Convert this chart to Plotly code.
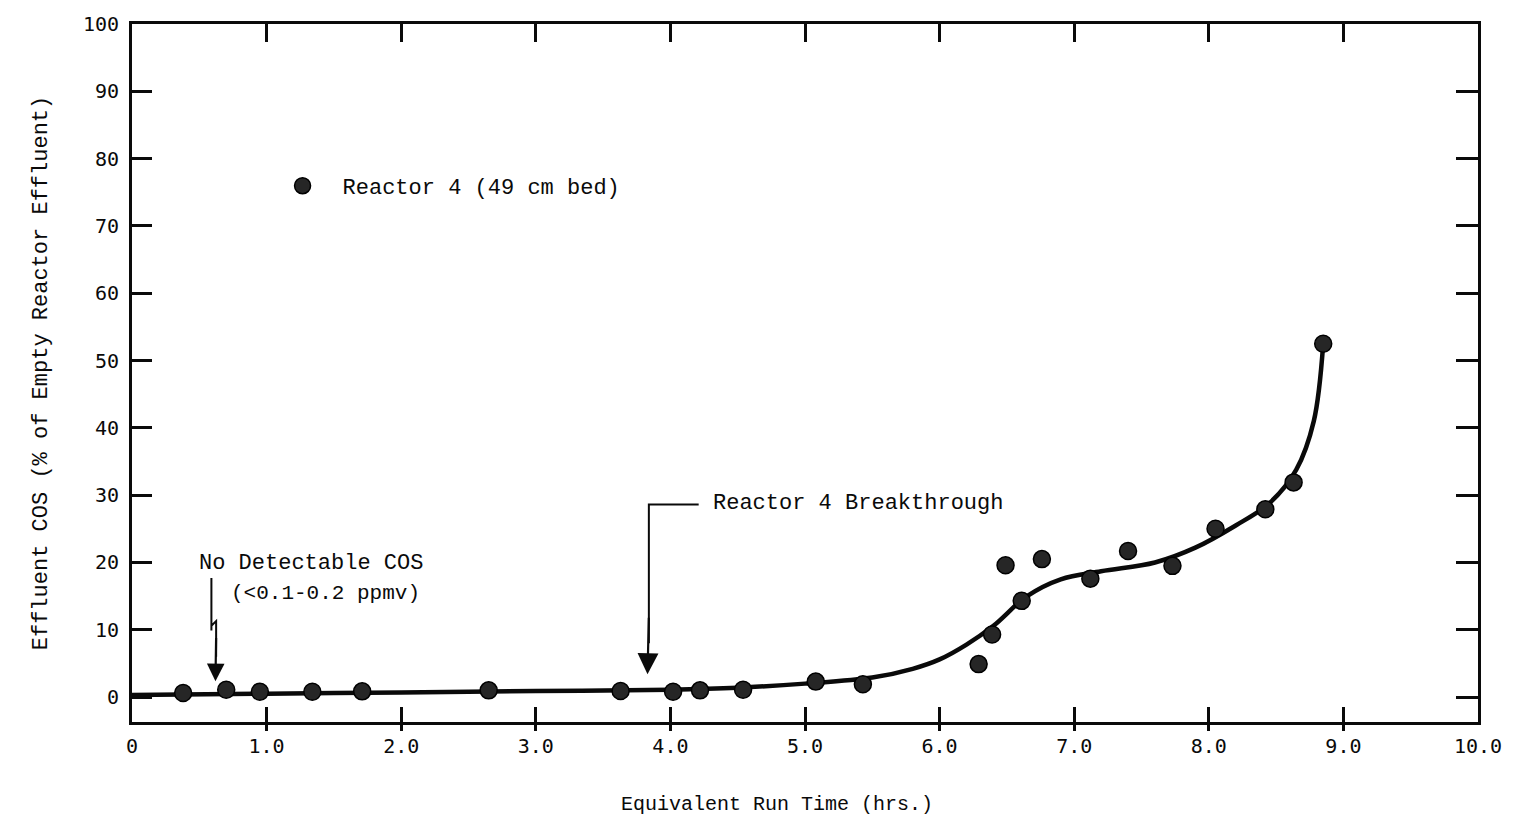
import plotly.graph_objects as go

# Measured effluent COS for Reactor 4 (49 cm bed)
run_time_hrs = [0.38, 0.70, 0.95, 1.34, 1.71, 2.65, 3.63, 4.02, 4.22, 4.54,
                5.08, 5.43, 6.29, 6.39, 6.49, 6.61, 6.76, 7.12, 7.40, 7.73,
                8.05, 8.42, 8.63, 8.85]
effluent_cos = [0.6, 1.1, 0.8, 0.8, 0.85, 1.0, 0.9, 0.8, 1.0, 1.1,
                2.3, 1.9, 4.9, 9.3, 19.6, 14.3, 20.5, 17.6, 21.7, 19.5,
                25.0, 27.9, 31.9, 52.5]

# Hand-drawn trend curve through the data
curve_x = [0.0, 1.0, 2.0, 3.0, 4.0, 4.5, 5.0, 5.5, 5.8, 6.0, 6.2, 6.4, 6.65,
           6.9, 7.2, 7.6, 7.9, 8.2, 8.45, 8.65, 8.78, 8.85]
curve_y = [0.3, 0.5, 0.7, 0.9, 1.1, 1.4, 2.0, 2.9, 4.2, 5.6, 7.8, 10.6, 15.0,
           17.5, 18.7, 20.0, 22.2, 25.5, 28.8, 33.8, 41.0, 52.5]

x_tick_vals = [0, 1, 2, 3, 4, 5, 6, 7, 8, 9, 10]
x_tick_text = ["0", "1.0", "2.0", "3.0", "4.0", "5.0", "6.0", "7.0", "8.0", "9.0", "10.0"]
y_tick_vals = [0, 10, 20, 30, 40, 50, 60, 70, 80, 90, 100]
y_tick_text = ["0", "10", "20", "30", "40", "50", "60", "70", "80", "90", "100"]

X_RANGE = [0, 10]
Y_RANGE = [-3.7, 100]

FONT = "Liberation Mono, Courier New, monospace"
NUM_FONT = "DejaVu Sans Mono, monospace"
INK = "#0a0a0a"

fig = go.Figure()

fig.add_trace(go.Scatter(
    x=curve_x, y=curve_y, mode="lines",
    line=dict(color=INK, width=4.5, shape="spline", smoothing=1.0),
    showlegend=False, hoverinfo="skip",
))

fig.add_trace(go.Scatter(
    x=run_time_hrs, y=effluent_cos, mode="markers",
    name="Reactor 4 (49 cm bed)",
    marker=dict(size=17, color="#262626", line=dict(color="#000000", width=1.5)),
))

# Secondary axes used only to carry the top/right frame ticks and
# the short outward part of the bottom ticks
fig.add_trace(go.Scatter(x=[None], y=[None], xaxis="x2", yaxis="y2", showlegend=False))
fig.add_trace(go.Scatter(x=[None], y=[None], xaxis="x3", yaxis="y", showlegend=False))

axis_common = dict(showgrid=False, zeroline=False, linecolor=INK, linewidth=3,
                   tickcolor=INK, tickwidth=3)

fig.update_layout(
    width=1514, height=816,
    margin=dict(l=132, r=29, t=24, b=94),
    paper_bgcolor="white", plot_bgcolor="white",
    font=dict(family=FONT, size=21, color=INK),
    xaxis=dict(range=X_RANGE, tickvals=x_tick_vals, ticktext=x_tick_text,
               ticks="inside", ticklen=15, showline=True, side="bottom",
               ticklabelstandoff=4,
               tickfont=dict(family=NUM_FONT, size=20), **axis_common),
    xaxis2=dict(range=X_RANGE, overlaying="x", side="top", anchor="y2",
                tickvals=[1, 2, 3, 4, 5, 6, 7, 8, 9], ticks="inside", ticklen=18,
                showticklabels=False, showline=True, **axis_common),
    xaxis3=dict(range=X_RANGE, overlaying="x", side="bottom", anchor="y",
                tickvals=[1, 2, 3, 4, 5, 6, 7, 8, 9], ticks="outside", ticklen=8,
                showticklabels=False, showline=False, **axis_common),
    yaxis=dict(range=Y_RANGE, tickvals=y_tick_vals, ticktext=y_tick_text,
               ticks="inside", ticklen=20, showline=True, ticklabelstandoff=6,
               tickfont=dict(family=NUM_FONT, size=20),
               title=dict(text="Effluent COS (% of Empty Reactor Effluent)",
                          font=dict(size=22), standoff=30),
               automargin=False, **axis_common),
    yaxis2=dict(range=Y_RANGE, overlaying="y", side="right", anchor="x2",
                tickvals=[0, 10, 20, 30, 40, 50, 60, 70, 80, 90], ticks="inside",
                ticklen=22, showticklabels=False, showline=True, **axis_common),
    showlegend=True,
    legend=dict(x=0.097, y=0.768, xanchor="left", yanchor="middle",
                bgcolor="rgba(0,0,0,0)", borderwidth=0, itemwidth=70,
                font=dict(family=FONT, size=22, color=INK), itemsizing="trace"),
)

# "Reactor 4 Breakthrough" elbow arrow
fig.add_shape(type="path", path="M 4.21,28.6 L 3.84,28.6 L 3.84,8",
              xref="x", yref="y", line=dict(color=INK, width=2))
fig.add_annotation(x=3.83, y=3.4, ax=3.84, ay=12, xref="x", yref="y",
                   axref="x", ayref="y", text="", showarrow=True,
                   arrowhead=2, arrowsize=1.9, arrowwidth=2.2, arrowcolor=INK)
fig.add_annotation(x=4.30, y=28.8, xref="x", yref="y", text="Reactor 4 Breakthrough",
                   showarrow=False, xanchor="left", yanchor="middle",
                   font=dict(family=FONT, size=22, color=INK))

# "No Detectable COS" arrow with a small jog
fig.add_shape(type="path",
              path="M 0.59,17.7 L 0.59,9.9 M 0.59,10.6 L 0.625,11.3 L 0.625,6",
              xref="x", yref="y", line=dict(color=INK, width=2))
fig.add_annotation(x=0.62, y=2.35, ax=0.625, ay=9, xref="x", yref="y",
                   axref="x", ayref="y", text="", showarrow=True,
                   arrowhead=2, arrowsize=1.6, arrowwidth=2.2, arrowcolor=INK)
fig.add_annotation(x=0.48, y=19.8, xref="x", yref="y", text="No Detectable COS",
                   showarrow=False, xanchor="left", yanchor="middle",
                   font=dict(family=FONT, size=22, color=INK))
fig.add_annotation(x=0.72, y=15.4, xref="x", yref="y", text="(&lt;0.1-0.2 ppmv)",
                   showarrow=False, xanchor="left", yanchor="middle",
                   font=dict(family=FONT, size=21, color=INK))

# Horizontal axis title
fig.add_annotation(x=(780 - 132) / 1353, y=-0.118, xref="paper", yref="paper",
                   text="Equivalent Run Time (hrs.)", showarrow=False,
                   xanchor="center", yanchor="middle",
                   font=dict(family=FONT, size=20, color=INK))

fig.write_html("out.html")
